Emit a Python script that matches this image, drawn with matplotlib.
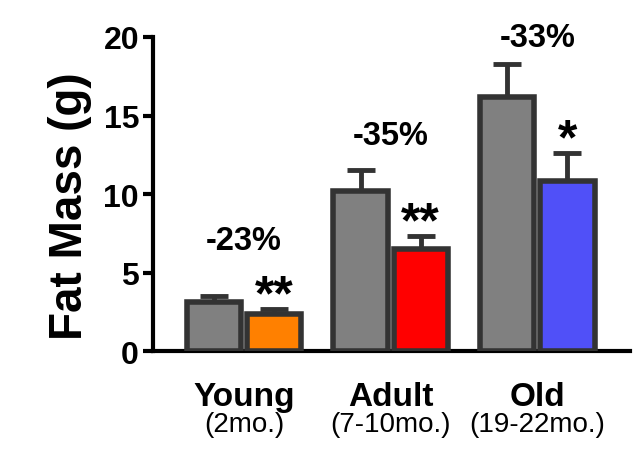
import numpy as np
import matplotlib.pyplot as plt

plt.rcParams['font.family'] = ['Liberation Sans', 'DejaVu Sans']

# group labels and fat mass (g), mean and upper error (SEM)
groups = ['Young', 'Adult', 'Old']
ages = ['(2mo.)', '(7-10mo.)', '(19-22mo.)']
control = [3.1, 10.2, 16.2]
control_err = [0.4, 1.3, 2.1]
treated = [2.35, 6.5, 10.8]
treated_err = [0.3, 0.8, 1.8]
treated_colors = ['#ff8000', '#ff0000', '#5050f8']
changes = ['-23%', '-35%', '-33%']
change_y = [6.5, 13.2, 19.4]   # baseline of the percent labels
stars = ['**', '**', '*']

fig = plt.figure(figsize=(6.34, 4.52), dpi=100)
ax = fig.add_axes([0.2413, 0.221, 0.752, 0.695])

x = np.arange(len(groups))
w = 0.37
off = 0.205
edge = '#333333'

ax.bar(x - off, control, w, color='#808080', edgecolor=edge, linewidth=4, zorder=3)
ax.bar(x + off, treated, w, color=treated_colors, edgecolor=edge, linewidth=4, zorder=3)
ax.errorbar(x - off, control, yerr=[np.zeros(3), control_err], fmt='none',
            ecolor=edge, elinewidth=3.5, capsize=10, capthick=3.5, zorder=2)
ax.errorbar(x + off, treated, yerr=[np.zeros(3), treated_err], fmt='none',
            ecolor=edge, elinewidth=3.5, capsize=10, capthick=3.5, zorder=2)

# percent change above each pair, significance stars above treated bar
for i in range(len(groups)):
    ax.text(x[i], change_y[i], changes[i], ha='center', va='baseline',
            fontsize=23.5, fontweight='bold')
    ax.text(x[i] + off, treated[i] + treated_err[i], stars[i], ha='center',
            va='baseline', fontsize=36, fontweight='bold')

ax.set_xlim(-0.62, 2.63)
ax.set_ylim(0, 20)
ax.set_yticks([0, 5, 10, 15, 20])
ax.set_xticks([])
for lab in ax.get_yticklabels():
    lab.set_fontweight('bold')
ax.tick_params(axis='y', labelsize=23, width=3, length=7, pad=3)
ax.set_ylabel('Fat Mass (g)', fontsize=33, fontweight='bold')
ax.yaxis.set_label_coords(-0.175, 0.465)
ax.yaxis.label.set_va('center')

for s in ['top', 'right']:
    ax.spines[s].set_visible(False)
for s in ['left', 'bottom']:
    ax.spines[s].set_linewidth(3)

for i in range(len(groups)):
    ax.text(x[i], -3.45, groups[i], ha='center', va='baseline', fontsize=24,
            fontweight='bold', clip_on=False)
    ax.text(x[i], -5.1, ages[i], ha='center', va='baseline', fontsize=20,
            clip_on=False)

fig.savefig('out.png', dpi=100)
